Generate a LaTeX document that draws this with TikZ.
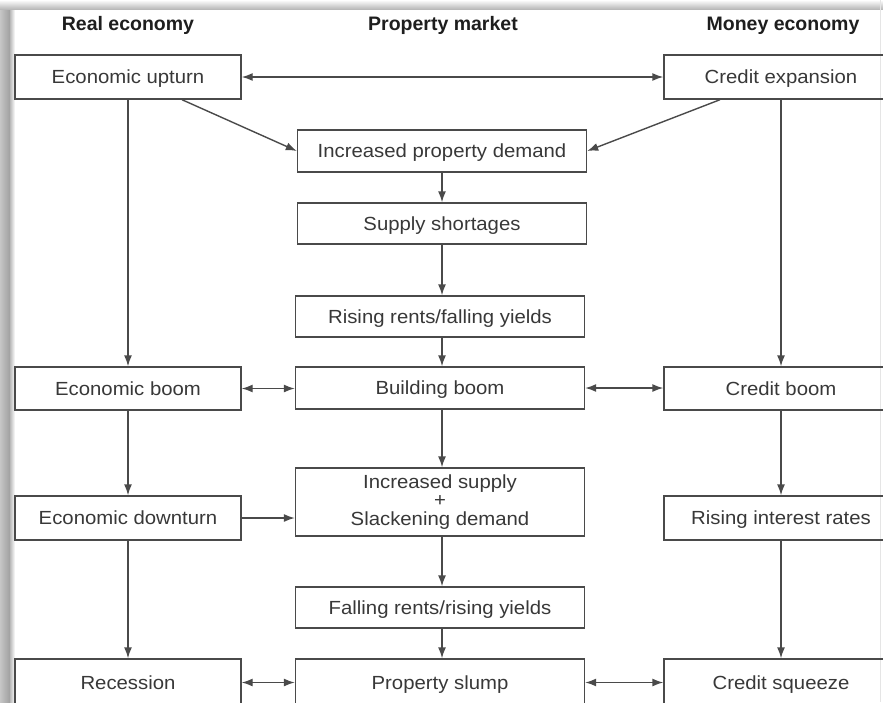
\documentclass[tikz,border=0pt]{standalone}
\usepackage{fontspec}
\setmainfont{Liberation Sans}
\newfontfamily\boxfont[FakeStretch=1.07]{Liberation Sans}
\usetikzlibrary{arrows.meta}
\definecolor{linec}{HTML}{4A4A4A}
\definecolor{textc}{HTML}{383838}
\definecolor{headc}{HTML}{1E1E1E}
\tikzset{
  box/.style={draw=linec, line width=1.4pt, rectangle, inner sep=0pt,
    text=textc, font=\boxfont\fontsize{19}{18.5}\selectfont, align=center},
  box1/.style={box, text height=14pt, text depth=0.4pt},
  head/.style={anchor=base, text=headc, font=\bfseries\fontsize{19.5}{22}\selectfont},
  arr/.style={draw=linec, line width=1.4pt, -{Latex[length=11pt,width=8pt]}},
  darr/.style={draw=linec, line width=1.4pt, {Latex[length=11pt,width=8pt]}-{Latex[length=11pt,width=8pt]}},
}
\begin{document}
\begin{tikzpicture}[x=1pt,y=-1pt]
\clip (0,0) rectangle (883,702);
\fill[white] (0,0) rectangle (883,702);
% frame shadow
\shade[left color=gray!45, right color=gray!75] (0,0) rectangle (10,702);
\shade[left color=gray!55, right color=white] (10,0) rectangle (15,702);
\shade[top color=white, bottom color=gray!55] (0,0) rectangle (883,9);
\draw[gray!20, line width=1pt] (880,0) -- (880,702);

% headers
\node[head] (h1) at (128,30) {Real economy};
\node[head] (h2) at (443,30) {Property market};
\node[head] (h3) at (783,30) {Money economy};

% left column
\node[box1, minimum width=226pt, minimum height=44pt] (up) at (128,77) {Economic upturn};
\node[box1, minimum width=226pt, minimum height=43pt] (eb) at (128,388.5) {Economic boom};
\node[box1, minimum width=226pt, minimum height=44pt] (ed) at (128,518) {Economic downturn};
\node[box1, minimum width=226pt, minimum height=47pt] (rec) at (128,682.5) {Recession};

% right column
\node[box1, minimum width=234pt, minimum height=44pt] (ce) at (781,77) {Credit expansion};
\node[box1, minimum width=234pt, minimum height=43pt] (cb) at (781,388.5) {Credit boom};
\node[box1, minimum width=234pt, minimum height=44pt] (ri) at (781,518) {Rising interest rates};
\node[box1, minimum width=234pt, minimum height=47pt] (cs) at (781,682.5) {Credit squeeze};

% middle column
\node[box1, minimum width=289pt, minimum height=42pt] (ipd) at (442,151) {Increased property demand};
\node[box1, minimum width=289pt, minimum height=41pt] (ss) at (442,223.5) {Supply shortages};
\node[box1, minimum width=289pt, minimum height=41pt] (rr) at (440,316.5) {Rising rents/falling yields};
\node[box1, minimum width=289pt, minimum height=42pt] (bb) at (440,388) {Building boom};
\node[box, minimum width=289pt, minimum height=68pt] (is) at (440,502) {Increased supply\\+\\Slackening demand};
\node[box1, minimum width=289pt, minimum height=41pt] (fr) at (440,607.5) {Falling rents/rising yields};
\node[box1, minimum width=289pt, minimum height=47pt] (ps) at (440,682.5) {Property slump};

% connectors
\draw[darr] (up.east) -- (ce.west);
\draw[arr] ([xshift=54pt]up.south) -- (ipd.west);
\draw[arr] ([xshift=-61pt]ce.south) -- (ipd.east);
\draw[arr] (ipd.south) -- (ss.north);
\draw[arr] (ss.south) -- (ss.south |- rr.north);
\draw[arr] (ss.south |- rr.south) -- (ss.south |- bb.north);
\draw[arr] (up.south) -- (eb.north);
\draw[arr] (ce.south) -- (cb.north);
\draw[darr] (eb.east) -- (eb.east -| bb.west);
\draw[darr] (bb.east) -- (bb.east -| cb.west);
\draw[arr] (ss.south |- bb.south) -- (ss.south |- is.north);
\draw[arr] (eb.south) -- (ed.north);
\draw[arr] (cb.south) -- (ri.north);
\draw[arr] (ed.east) -- (ed.east -| is.west);
\draw[arr] (ss.south |- is.south) -- (ss.south |- fr.north);
\draw[arr] (ss.south |- fr.south) -- (ss.south |- ps.north);
\draw[arr] (ed.south) -- (rec.north);
\draw[arr] (ri.south) -- (cs.north);
\draw[darr] (rec.east) -- (ps.west);
\draw[darr] (ps.east) -- (cs.west);
\end{tikzpicture}
\end{document}
